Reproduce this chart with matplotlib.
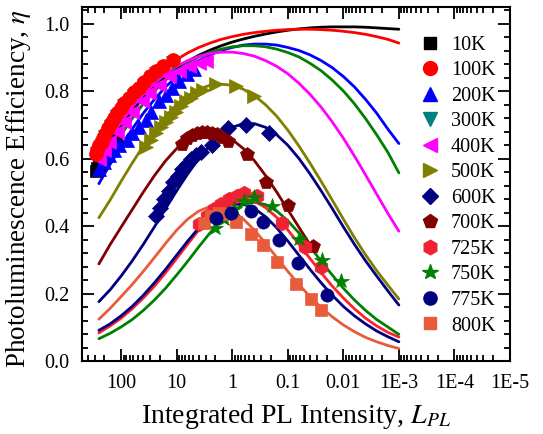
import matplotlib
matplotlib.use("Agg")
import matplotlib.pyplot as plt
from matplotlib.lines import Line2D
from matplotlib.ticker import FixedLocator, FixedFormatter, LogLocator, MultipleLocator, NullFormatter, FormatStrFormatter

plt.rcParams['font.family'] = ['Liberation Serif', 'DejaVu Serif']
plt.rcParams['mathtext.fontset'] = 'stix'

# ---------------- data ----------------
labels = ['10K', '100K', '200K', '300K', '400K', '500K', '600K', '700K', '725K', '750K', '775K', '800K']

# fitted curves, common x grid
fit_L = [251, 158, 100, 63.1, 39.8, 25.1, 15.8, 10.0, 6.31, 3.98, 2.51, 1.58, 1.0, 0.631,
         0.398, 0.251, 0.158, 0.1, 0.0631, 0.0398, 0.0251, 0.0158, 0.01, 0.00631, 0.00398,
         0.00251, 0.00158, 0.001]
fit_10K = [0.597, 0.650, 0.698, 0.742, 0.781, 0.815, 0.844, 0.868, 0.889, 0.907, 0.922, 0.935, 0.946, 0.955,
           0.963, 0.970, 0.976, 0.981, 0.985, 0.988, 0.990, 0.991, 0.991, 0.991, 0.990, 0.988, 0.986, 0.984]
fit_100K = [0.629, 0.681, 0.729, 0.772, 0.810, 0.843, 0.871, 0.894, 0.914, 0.930, 0.943, 0.954, 0.962, 0.969,
            0.974, 0.978, 0.981, 0.983, 0.984, 0.984, 0.983, 0.981, 0.978, 0.974, 0.969, 0.962, 0.954, 0.943]
fit_200K = [0.526, 0.583, 0.637, 0.688, 0.735, 0.776, 0.813, 0.844, 0.870, 0.891, 0.908, 0.921, 0.930, 0.937,
            0.940, 0.940, 0.937, 0.930, 0.921, 0.908, 0.891, 0.870, 0.844, 0.813, 0.776, 0.735, 0.688, 0.645]
fit_300K = [0.570, 0.621, 0.671, 0.719, 0.763, 0.801, 0.833, 0.861, 0.883, 0.902, 0.915, 0.925, 0.932, 0.935,
            0.935, 0.932, 0.925, 0.915, 0.902, 0.883, 0.861, 0.833, 0.801, 0.763, 0.719, 0.671, 0.619, 0.558]
fit_400K = [0.608, 0.661, 0.709, 0.753, 0.791, 0.824, 0.852, 0.874, 0.891, 0.904, 0.912, 0.916, 0.916, 0.912,
            0.904, 0.891, 0.874, 0.852, 0.824, 0.791, 0.753, 0.709, 0.661, 0.608, 0.552, 0.495, 0.438, 0.385]
fit_500K = [0.425, 0.477, 0.533, 0.587, 0.638, 0.685, 0.726, 0.760, 0.787, 0.806, 0.818, 0.821, 0.818, 0.806,
            0.787, 0.760, 0.726, 0.685, 0.638, 0.587, 0.533, 0.477, 0.421, 0.366, 0.315, 0.268, 0.225, 0.184]
fit_600K = [0.176, 0.211, 0.252, 0.297, 0.346, 0.398, 0.452, 0.505, 0.555, 0.601, 0.640, 0.671, 0.693, 0.704,
            0.704, 0.693, 0.671, 0.640, 0.601, 0.555, 0.505, 0.452, 0.398, 0.346, 0.297, 0.252, 0.208, 0.166]
fit_700K = [0.288, 0.345, 0.397, 0.449, 0.501, 0.550, 0.594, 0.630, 0.657, 0.674, 0.680, 0.674, 0.657, 0.630,
            0.594, 0.550, 0.501, 0.449, 0.397, 0.345]
fit_725K = [0.083, 0.104, 0.127, 0.155, 0.187, 0.222, 0.262, 0.304, 0.347, 0.389, 0.426, 0.455, 0.474, 0.481,
            0.474, 0.455, 0.426, 0.389, 0.347, 0.304, 0.262, 0.222, 0.187, 0.155, 0.127, 0.104, 0.085, 0.071]
fit_750K = [0.066, 0.082, 0.101, 0.123, 0.150, 0.181, 0.216, 0.255, 0.296, 0.339, 0.380, 0.416, 0.445, 0.464,
            0.471, 0.464, 0.445, 0.416, 0.380, 0.339, 0.296, 0.255, 0.216, 0.181, 0.150, 0.123, 0.101, 0.079]
fit_775K = [0.091, 0.110, 0.134, 0.162, 0.195, 0.232, 0.272, 0.314, 0.356, 0.395, 0.428, 0.452, 0.465, 0.465,
            0.452, 0.428, 0.395, 0.356, 0.314, 0.272, 0.232, 0.195, 0.162, 0.134, 0.110, 0.089, 0.072, 0.057]
fit_800K = [0.124, 0.156, 0.191, 0.227, 0.266, 0.307, 0.349, 0.388, 0.421, 0.445, 0.458, 0.458, 0.445, 0.421,
            0.388, 0.349, 0.307, 0.266, 0.227, 0.191, 0.159, 0.131, 0.107, 0.087, 0.070, 0.057, 0.046, 0.037]

# measured points
L_10K = [288, 269, 251, 234, 219, 200, 182, 166, 151, 138, 126]
E_10K = [0.565, 0.572, 0.580, 0.588, 0.596, 0.606, 0.617, 0.628, 0.640, 0.650, 0.660]
L_100K = [288, 269, 251, 224, 209, 191, 174, 151, 132, 117, 100, 87.1, 70.8, 57.5, 47.9, 38.0, 30.2, 23.4, 17.8, 11.7]
E_100K = [0.615, 0.625, 0.640, 0.650, 0.660, 0.672, 0.690, 0.705, 0.720, 0.735, 0.750, 0.765, 0.780, 0.797, 0.810,
          0.827, 0.845, 0.861, 0.875, 0.893]
L_200K = [245, 200, 162, 132, 107, 79.4, 63.1, 46.8, 36.3, 28.8, 20.4, 15.5, 12.0, 8.91, 6.46, 4.79]
E_200K = [0.570, 0.590, 0.610, 0.625, 0.640, 0.655, 0.675, 0.695, 0.715, 0.740, 0.770, 0.790, 0.810, 0.830, 0.850, 0.867]
L_300K = [269, 224, 191, 151, 117, 87.1, 57.5, 38.0, 23.4, 11.7]
E_300K = [0.615, 0.640, 0.665, 0.695, 0.725, 0.755, 0.787, 0.817, 0.851, 0.883]
L_400K = [245, 200, 162, 120, 87.1, 63.1, 42.7, 30.9, 20.4, 13.5, 8.91, 5.89, 3.89, 2.95]
E_400K = [0.600, 0.625, 0.650, 0.680, 0.710, 0.740, 0.770, 0.795, 0.820, 0.845, 0.860, 0.875, 0.885, 0.890]
L_500K = [35.5, 28.8, 23.4, 19.1, 15.5, 12.6, 10.2, 8.32, 6.76, 5.50, 4.27, 3.31, 1.95, 0.871, 0.398]
E_500K = [0.635, 0.655, 0.675, 0.695, 0.710, 0.725, 0.740, 0.755, 0.770, 0.780, 0.795, 0.805, 0.822, 0.815, 0.787]
L_600K = [24.0, 20.0, 16.6, 13.8, 11.5, 9.55, 7.94, 6.61, 5.50, 4.57, 3.63, 2.29, 1.17, 0.575, 0.214]
E_600K = [0.430, 0.455, 0.480, 0.505, 0.530, 0.550, 0.570, 0.585, 0.600, 0.612, 0.620, 0.640, 0.690, 0.700, 0.675]
L_700K = [7.94, 6.46, 5.25, 4.27, 3.47, 2.82, 2.29, 1.86, 1.51, 1.17, 0.537, 0.245, 0.0977, 0.0347]
E_700K = [0.645, 0.660, 0.670, 0.675, 0.678, 0.678, 0.675, 0.672, 0.665, 0.652, 0.615, 0.530, 0.462, 0.342]
L_725K = [3.89, 2.82, 2.09, 1.58, 1.12, 0.813, 0.603, 0.355, 0.126, 0.0490, 0.0251]
E_725K = [0.405, 0.430, 0.450, 0.465, 0.480, 0.490, 0.497, 0.488, 0.410, 0.337, 0.278]
L_750K = [2.0, 1.38, 0.912, 0.603, 0.398, 0.191, 0.0617, 0.0240, 0.0110]
E_750K = [0.395, 0.420, 0.450, 0.475, 0.487, 0.460, 0.362, 0.300, 0.236]
L_775K = [1.95, 1.05, 0.468, 0.282, 0.141, 0.0646, 0.0195]
E_775K = [0.425, 0.440, 0.445, 0.413, 0.359, 0.292, 0.195]
L_800K = [3.16, 2.40, 1.70, 1.23, 0.851, 0.457, 0.282, 0.158, 0.0724, 0.0380, 0.0251]
E_800K = [0.410, 0.430, 0.440, 0.435, 0.413, 0.377, 0.345, 0.295, 0.228, 0.185, 0.152]

xtick_vals = [100, 10, 1, 0.1, 0.01, 1e-3, 1e-4, 1e-5]
xtick_labels = ['100', '10', '1', '0.1', '0.01', '1E-3', '1E-4', '1E-5']

# ---------------- styles ----------------
marker_colors = ['#000000', '#FF0000', '#0000FF', '#008080', '#FF00FF', '#808000',
                 '#000080', '#800000', '#EE2233', '#008000', '#000080', '#E85C3C']
fit_colors = ['#000000', '#FF0000', '#0000FF', '#008000', '#FF00FF', '#808000',
              '#000080', '#800000', '#FF2030', '#008000', '#000080', '#E85C3C']
markers = ['s', 'o', '^', 'v', '<', '>', 'D', 'p', 'h', '*', 'o', 's']
msizes = [8, 10, 10, 10, 10, 10, 8.5, 10.5, 10.5, 11.5, 9.5, 8.5]

fits = [fit_10K, fit_100K, fit_200K, fit_300K, fit_400K, fit_500K, fit_600K, fit_700K,
        fit_725K, fit_750K, fit_775K, fit_800K]
data = [(L_10K, E_10K), (L_100K, E_100K), (L_200K, E_200K), (L_300K, E_300K), (L_400K, E_400K),
        (L_500K, E_500K), (L_600K, E_600K), (L_700K, E_700K), (L_725K, E_725K), (L_750K, E_750K),
        (L_775K, E_775K), (L_800K, E_800K)]
marker_z = [3.0, 3.3, 3.1, 3.05, 3.2, 3.2, 3.2, 3.2, 3.2, 3.3, 3.4, 3.3]

fig = plt.figure(figsize=(5.43, 4.34), dpi=100)
ax = fig.add_axes([0.1515, 0.1682, 0.7877, 0.8157])

for i in range(len(labels)):
    ys = fits[i]
    ax.plot(fit_L[:len(ys)], ys, color=fit_colors[i], lw=2.0, zorder=2, solid_capstyle='round')
for i in range(len(labels)):
    xs, ys = data[i]
    ax.plot(xs, ys, linestyle='none', marker=markers[i], ms=msizes[i], color=marker_colors[i],
            mec=marker_colors[i], mew=0.5, zorder=marker_z[i])

ax.set_xscale('log')
ax.set_xlim(500, 1e-5)
ax.set_ylim(0, 1.05)
ax.xaxis.set_major_locator(FixedLocator(xtick_vals))
ax.xaxis.set_major_formatter(FixedFormatter(xtick_labels))
ax.xaxis.set_minor_locator(LogLocator(base=10, subs=[2, 3, 4, 5, 6, 7, 8, 9], numticks=20))
ax.xaxis.set_minor_formatter(NullFormatter())
ax.yaxis.set_major_locator(MultipleLocator(0.2))
ax.yaxis.set_minor_locator(MultipleLocator(0.04))
ax.yaxis.set_major_formatter(FormatStrFormatter('%.1f'))
ax.tick_params(which='both', direction='in', top=True, right=True, width=1.3, labelsize=14.5)
ax.tick_params(which='major', length=8.5)
ax.tick_params(which='minor', length=4.5)
ax.tick_params(axis='x', which='major', pad=9)
ax.tick_params(axis='y', which='major', pad=9)
for sp in ax.spines.values():
    sp.set_linewidth(1.5)

ax.set_xlabel(r'Integrated PL Intensity, $L_{PL}$', fontsize=20, labelpad=7)
ax.set_ylabel(r'Photoluminescence Efficiency, $\eta$', fontsize=19.5)
ax.yaxis.set_label_coords(-0.115, 0.487)

handles = [Line2D([], [], linestyle='none', marker=markers[i], ms=msizes[i], color=marker_colors[i],
                  mec=marker_colors[i]) for i in range(len(labels))]
ax.legend(handles, labels, loc='upper left', bbox_to_anchor=(0.765, 0.948), frameon=False,
          fontsize=14.5, handlelength=1.0, handletextpad=0.55, labelspacing=0.32, borderpad=0)

fig.savefig('out.png', dpi=100)
